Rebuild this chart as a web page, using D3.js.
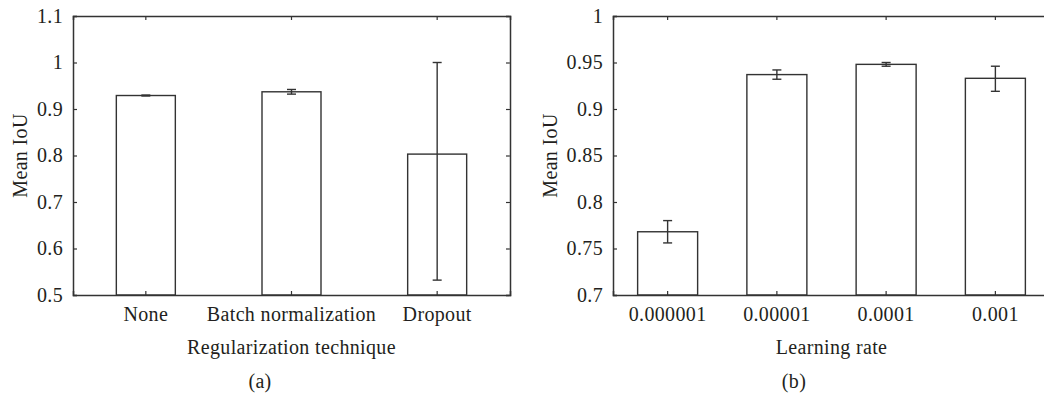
<!DOCTYPE html>
<html>
<head>
<meta charset="utf-8">
<script src="https://cdn.jsdelivr.net/npm/d3@7"></script>
<style>
  body { margin: 0; background: #fff; }
</style>
</head>
<body>
<div id="chart"></div>
<script>
// panel (a): regularization technique
const regCategories = ["None", "Batch normalization", "Dropout"];
const regMeans = [0.929, 0.937, 0.803];
const regErrLow = [0.928, 0.932, 0.532];
const regErrHigh = [0.930, 0.942, 1.0];
const regTicks = [0.5, 0.6, 0.7, 0.8, 0.9, 1.0, 1.1];

// panel (b): learning rate
const lrCategories = ["0.000001", "0.00001", "0.0001", "0.001"];
const lrMeans = [0.768, 0.937, 0.948, 0.933];
const lrErrLow = [0.756, 0.932, 0.946, 0.919];
const lrErrHigh = [0.780, 0.942, 0.950, 0.946];
const lrTicks = [0.7, 0.75, 0.8, 0.85, 0.9, 0.95, 1.0];

const W = 1044, H = 398;
const ink = "#333";
const textInk = "#231f20";
const fontSize = 20;
const font = "'Liberation Serif', 'Times New Roman', serif";

var svg = d3.select("#chart").append("svg")
    .attr("width", W)
    .attr("height", H);

function fmt(d) { return String(+d.toFixed(2)); }

function label(sel) {
    return sel.style("font-family", font)
        .attr("font-size", fontSize)
        .attr("letter-spacing", 0.35)
        .attr("fill", textInk);
}

function drawPanel(opt) {
    var g = svg.append("g");
    var x = d3.scaleBand().domain(opt.categories).range([opt.left, opt.right]).padding(0);
    var y = d3.scaleLinear().domain(opt.domain).range([opt.bottom, opt.top]);
    var barW = opt.barWidth;
    var tk = 4;

    var data = opt.categories.map(function(c, i) {
        return { key: c, value: opt.means[i], lo: opt.lo[i], hi: opt.hi[i] };
    });

    // bars
    g.selectAll(".bar").data(data).enter().append("rect")
        .attr("class", "bar")
        .attr("x", function(d) { return x(d.key) + x.bandwidth() / 2 - barW / 2; })
        .attr("y", function(d) { return y(d.value); })
        .attr("width", barW)
        .attr("height", function(d) { return y(opt.domain[0]) - y(d.value); })
        .attr("fill", "#fff")
        .attr("stroke", ink)
        .attr("stroke-width", 1.4);

    // error bars
    var cx = function(d) { return x(d.key) + x.bandwidth() / 2; };
    var eb = g.selectAll(".err").data(data).enter().append("g").attr("class", "err")
        .attr("stroke", ink).attr("stroke-width", 1.4);
    eb.append("line")
        .attr("x1", cx).attr("x2", cx)
        .attr("y1", function(d) { return y(d.lo); })
        .attr("y2", function(d) { return y(d.hi); });
    eb.append("line")
        .attr("x1", function(d) { return cx(d) - 4.5; }).attr("x2", function(d) { return cx(d) + 4.5; })
        .attr("y1", function(d) { return y(d.lo); }).attr("y2", function(d) { return y(d.lo); });
    eb.append("line")
        .attr("x1", function(d) { return cx(d) - 4.5; }).attr("x2", function(d) { return cx(d) + 4.5; })
        .attr("y1", function(d) { return y(d.hi); }).attr("y2", function(d) { return y(d.hi); });

    // axes, gnuplot style: inward ticks on all four sides
    var left = g.append("g").attr("transform", "translate(" + opt.left + ",0)")
        .call(d3.axisRight(y).tickValues(opt.ticks).tickSize(tk).tickFormat(""));
    var right = g.append("g").attr("transform", "translate(" + opt.right + ",0)")
        .call(d3.axisLeft(y).tickValues(opt.ticks).tickSize(tk).tickFormat(""));
    var bottom = g.append("g").attr("transform", "translate(0," + opt.bottom + ")")
        .call(d3.axisTop(x).tickSize(tk).tickFormat(""));
    var top = g.append("g").attr("transform", "translate(0," + opt.top + ")")
        .call(d3.axisBottom(x).tickSize(tk).tickFormat(""));
    [left, right, bottom, top].forEach(function(a) {
        a.select(".domain").attr("stroke", ink).attr("stroke-width", 1.5);
        a.selectAll(".tick line").attr("stroke", ink).attr("stroke-width", 1.2);
    });

    // tick labels
    g.selectAll(".ylab").data(opt.ticks).enter().append("text")
        .attr("x", opt.left - 10)
        .attr("y", function(d) { return y(d); })
        .attr("dy", "0.34em")
        .attr("text-anchor", "end")
        .call(label)
        .text(fmt);
    g.selectAll(".xlab").data(opt.categories).enter().append("text")
        .attr("x", function(d) { return x(d) + x.bandwidth() / 2; })
        .attr("y", opt.bottom + 26)
        .attr("text-anchor", "middle")
        .call(label)
        .text(function(d) { return d; });

    // titles
    g.append("text")
        .attr("transform", "translate(" + opt.yTitleX + "," + ((opt.top + opt.bottom) / 2) + ") rotate(-90)")
        .attr("text-anchor", "middle")
        .call(label)
        .text("Mean IoU");
    g.append("text")
        .attr("x", (opt.left + opt.right) / 2)
        .attr("y", opt.bottom + 59)
        .attr("text-anchor", "middle")
        .call(label)
        .text(opt.xTitle);
    g.append("text")
        .attr("x", opt.captionX)
        .attr("y", opt.bottom + 93)
        .attr("text-anchor", "middle")
        .call(label)
        .text(opt.caption);
}

drawPanel({
    categories: regCategories, means: regMeans, lo: regErrLow, hi: regErrHigh,
    ticks: regTicks, domain: [0.5, 1.1],
    left: 73, right: 510, top: 16, bottom: 295, barWidth: 59,
    yTitleX: 27, xTitle: "Regularization technique", caption: "(a)", captionX: 260
});

drawPanel({
    categories: lrCategories, means: lrMeans, lo: lrErrLow, hi: lrErrHigh,
    ticks: lrTicks, domain: [0.7, 1.0],
    left: 613, right: 1050, top: 16, bottom: 295, barWidth: 60,
    yTitleX: 557, xTitle: "Learning rate", caption: "(b)", captionX: 794
});
</script>
</body>
</html>
